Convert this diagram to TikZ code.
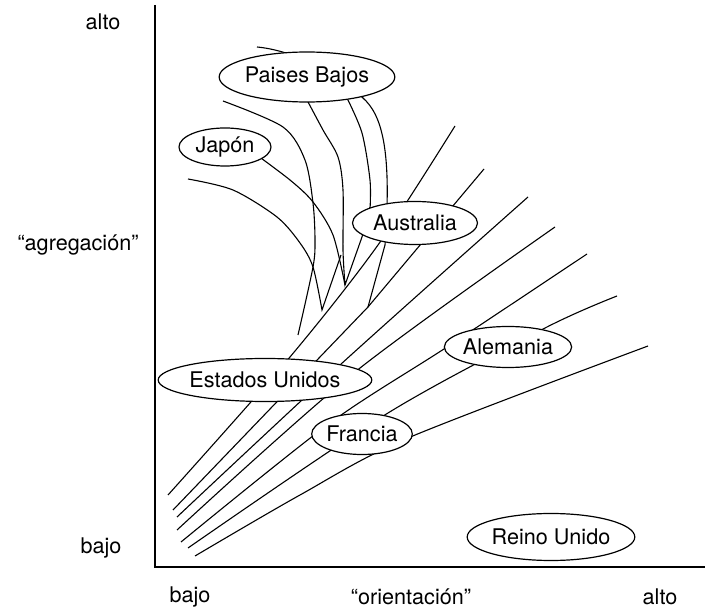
\documentclass[tikz,border=0pt]{standalone}
\usepackage{fontspec}
\setmainfont{TeX Gyre Heros}
\usetikzlibrary{positioning,shapes.geometric}

\begin{document}
\begin{tikzpicture}[
		x=0.5pt, y=-0.5pt,
		country/.style={ % 国家椭圆
			draw, ellipse, fill=white, line width=0.6pt,
			inner sep=0pt, font=\fontsize{10.8}{13}\selectfont
		},
		axislabel/.style={inner sep=0pt, font=\fontsize{10.8}{13}\selectfont},
		trend/.style={line width=0.55pt}
		]
		\useasboundingbox (0,0) rectangle (709,610);

		%% 坐标轴
		\coordinate (o) at (155,567);
		\coordinate (ytop) at (155,5);
		\coordinate (xend) at (705,567);
		\draw[line width=1pt] (ytop) -- (o) -- (xend);

		%% 轴标签
		\node[axislabel] (yhi) at (103,22) {alto};
		\node[axislabel] (ymid) at (78,245) {“agregación”};
		\node[axislabel] (ylo) at (101,548) {bajo};
		\node[axislabel] (xlo) at (190,597) {bajo};
		\node[axislabel] (xmid) at (411,597) {“orientación”};
		\node[axislabel] (xhi) at (660,597) {alto};

		%% 线的端点
		\coordinate (s1) at (168,495);
		\coordinate (s2) at (173,510);
		\coordinate (s3) at (177,517);
		\coordinate (s4) at (177,530);
		\coordinate (s5) at (181,542);
		\coordinate (s6) at (188,548);
		\coordinate (s7) at (195,556);
		\coordinate (ea) at (455,126);
		\coordinate (eb) at (484,169);
		\coordinate (ec) at (528,197);
		\coordinate (ed) at (555,227);
		\coordinate (ee) at (587,254);
		\coordinate (ef) at (617,296);
		\coordinate (eg) at (648,346);
		\coordinate (v1) at (322,310);
		\coordinate (v2) at (345,285);
		\coordinate (v3) at (368,307);

		% 扇形线
		\draw[trend] plot[smooth] coordinates {(s1) (290,357) (378,245) (ea)};
		\draw[trend] (s2) -- (v3) -- (385,245) .. controls (392,150) and (382,115) .. (363,98)
			.. controls (335,70) and (290,50) .. (257,47);
		\draw[trend] plot[smooth] coordinates {(s3) (340,365) (ec)};
		\draw[trend] plot[smooth] coordinates {(s4) (355,372) (ed)};
		\draw[trend] plot[smooth] coordinates {(s5) (330,423) (447,347) (ee)};
		\draw[trend] plot[smooth] coordinates {(s6) (388,413) (547,327) (ef)};
		\draw[trend] plot[smooth] coordinates {(s7) (300,495) (408,438) (eg)};
		\draw[trend] (eb) -- (v3);

		% 上方的弯曲线
		\draw[trend] plot[smooth] coordinates {(307,100) (323,130) (338,157) (343,190) (343,250) (v2)}
			-- (362,237) -- (370,207);
		\draw[trend] plot[smooth] coordinates {(347,98) (362,133) (370,180) (370,210)};
		\draw[trend] plot[smooth] coordinates {(223,101) (283,127) (305,160) (313,203) (315,240) (313,267) (298,335)};
		\draw[trend] plot[smooth] coordinates {(188,179) (233,190) (277,217) (300,243) (313,267) (v1)} -- (341,255);
		\draw[trend] plot[smooth] coordinates {(250,150) (290,180) (313,202) (333,235) (v2)};

		%% 国家
		\node[country, minimum width=77pt, minimum height=25pt] (pb) at (307,77) {Paises Bajos};
		\node[country, minimum width=46pt, minimum height=19pt] (jp) at (225,147) {Japón};
		\node[country, minimum width=62.5pt, minimum height=21.5pt] (au) at (415,223) {Australia};
		\node[country, minimum width=88.5pt, minimum height=21.5pt] (us) at (265,380) {Estados Unidos};
		\node[country, minimum width=45.5pt, minimum height=20.5pt] (fr) at (362,434) {Francia};
		\node[country, minimum width=63pt, minimum height=20.5pt] (de) at (508,347) {Alemania};
		\node[country, minimum width=69.5pt, minimum height=23.5pt] (uk) at (551,537) {Reino Unido};
	\end{tikzpicture}
\end{document}
